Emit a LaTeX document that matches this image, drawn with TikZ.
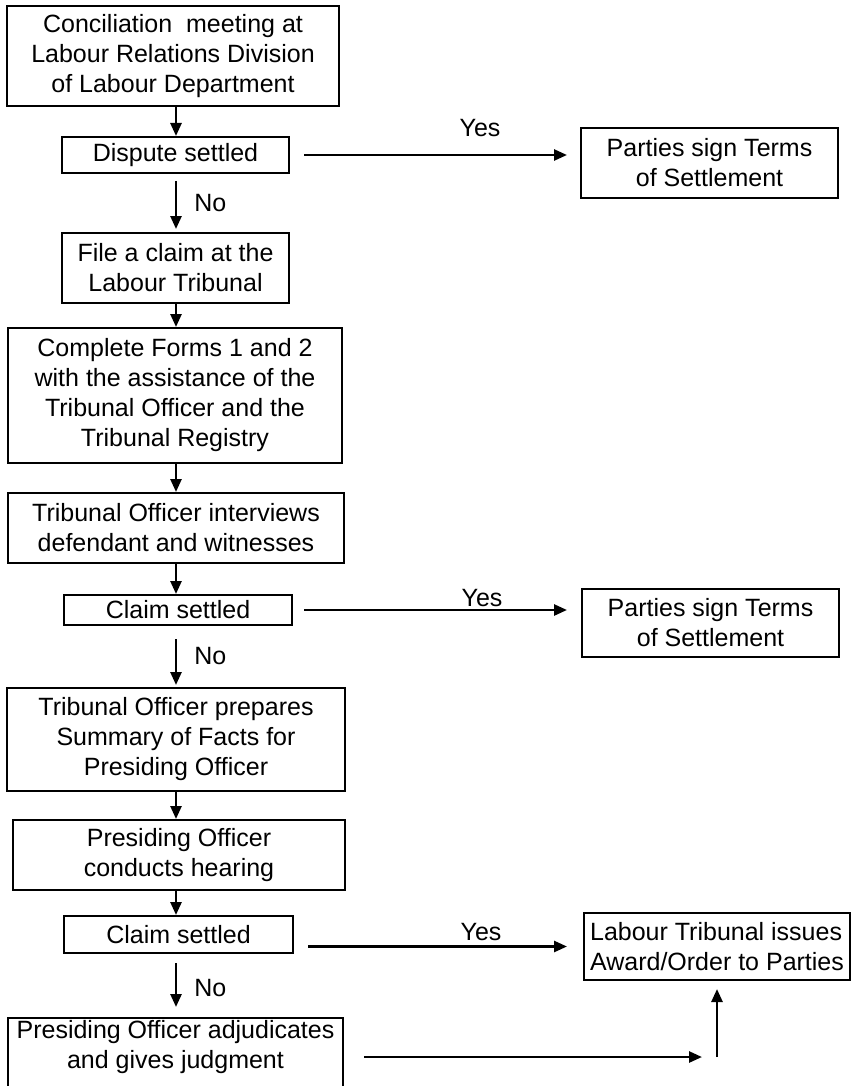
\documentclass[tikz,border=0pt]{standalone}
\usepackage{fontspec}
\setmainfont{Liberation Sans}
\usetikzlibrary{arrows.meta,calc}
\begin{document}
\begin{tikzpicture}[x=1pt,y=-1pt,
  box/.style={draw, line width=2pt, inner sep=0pt, align=center, font=\fontsize{25}{30}\selectfont},
  arr/.style={line width=2.6pt, -{Triangle[length=13pt,width=11pt]}},
  lab/.style={font=\fontsize{25}{30}\selectfont, inner sep=0pt}]
\useasboundingbox (0,0) rectangle (852,1086);
\clip (0,0) rectangle (852,1086);
\coordinate (ax) at (176,0);

\node[box, minimum width=332pt, minimum height=100pt] (b1) at (173,56) {Conciliation\ \ meeting at\\Labour Relations Division\\of Labour Department};
\node[box, minimum width=227pt, minimum height=36pt] (b2) at (175.5,155) {Dispute settled};
\node[box, minimum width=257pt, minimum height=70pt] (r1) at (709.5,163) {Parties sign Terms\\of Settlement};
\node[box, minimum width=227pt, minimum height=70pt] (b3) at (175.5,268) {File a claim at the\\Labour Tribunal};
\node[box, minimum width=334pt, minimum height=135pt] (b4) at (175,395.5) {Complete Forms 1 and 2\\with the assistance of the\\Tribunal Officer and the\\Tribunal Registry};
\node[box, minimum width=336pt, minimum height=70pt] (b5) at (176,528) {Tribunal Officer interviews\\defendant and witnesses};
\node[box, minimum width=228pt, minimum height=30pt] (b6) at (178,610) {Claim settled};
\node[box, minimum width=257pt, minimum height=68pt] (r2) at (710.5,623) {Parties sign Terms\\of Settlement};
\node[box, minimum width=338pt, minimum height=103pt] (b7) at (176,739.5) {Tribunal Officer prepares\\Summary of Facts for\\Presiding Officer};
\node[box, minimum width=332pt, minimum height=70pt] (b8) at (179,855) {Presiding Officer\\conducts hearing};
\node[box, minimum width=229pt, minimum height=37pt] (b9) at (178.5,934.5) {Claim settled};
\node[box, align=left, minimum width=266pt, minimum height=67pt] (r3) at (717,946.5) {Labour Tribunal issues\\Award/Order to Parties};
\node[box, minimum width=335pt, minimum height=72pt] (b10) at (175.5,1054) {};
\node[lab, align=center] (b10t) at (175.5,1047) {Presiding Officer adjudicates\\and gives judgment};

% vertical flow
\draw[arr] (b1.south -| ax) -- (b2.north -| ax);
\draw[arr, shorten <=7pt, shorten >=3pt] (b2.south -| ax) -- (b3.north -| ax) node[lab, midway, right=17pt] {No};
\draw[arr] (b3.south -| ax) -- (b4.north -| ax);
\draw[arr] (b4.south -| ax) -- (b5.north -| ax);
\draw[arr] (b5.south -| ax) -- (b6.north -| ax);
\draw[arr, shorten <=13pt, shorten >=2pt] (b6.south -| ax) -- (b7.north -| ax) node[lab, midway, right=17pt] {No};
\draw[arr] (b7.south -| ax) -- (b8.north -| ax);
\draw[arr] (b8.south -| ax) -- (b9.north -| ax);
\draw[arr, shorten <=9pt, shorten >=10pt] (b9.south -| ax) -- (b10.north -| ax) node[lab, midway, right=17pt, yshift=-3pt] {No};

% yes branches
\draw[arr, shorten <=14pt, shorten >=13pt] (b2.east) -- (r1.west |- b2.east);
\node[lab, anchor=base] (y1) at (480,137) {Yes};
\draw[arr, shorten <=11pt, shorten >=14pt] (b6.east) -- (r2.west |- b6.east);
\node[lab, anchor=base] (y2) at (482,606) {Yes};
\draw[arr, shorten <=14pt, shorten >=16pt] (b9.east |- r3.west) -- (r3.west);
\node[lab, anchor=base] (y3) at (481,940) {Yes};

% judgment to award
\coordinate (j) at (717,1057);
\draw[arr, shorten <=20pt] (b10.east |- j) -- ([xshift=-15pt]j);
\draw[arr, shorten >=8pt] (j) -- (r3.south);
\end{tikzpicture}
\end{document}
